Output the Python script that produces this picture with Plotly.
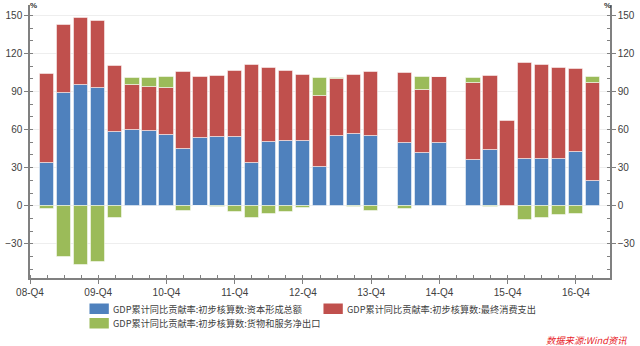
import plotly.graph_objects as go

quarters = ["09-Q1", "09-Q2", "09-Q3", "09-Q4",
            "10-Q1", "10-Q2", "10-Q3", "10-Q4",
            "11-Q1", "11-Q2", "11-Q3", "11-Q4",
            "12-Q1", "12-Q2", "12-Q3", "12-Q4",
            "13-Q1", "13-Q2", "13-Q3", "13-Q4",
            "14-Q1", "14-Q2", "14-Q3", "14-Q4",
            "15-Q1", "15-Q2", "15-Q3", "15-Q4",
            "16-Q1", "16-Q2", "16-Q3", "16-Q4",
            "17-Q1"]

capital = [33.5, 88.7, 95.3, 93.2,
           58.4, 59.5, 59.0, 55.8,
           44.5, 53.7, 54.0, 54.5,
           33.7, 50.1, 51.1, 51.1,
           30.6, 54.8, 56.6, 55.2,
           None, 49.3, 41.8, 49.3,
           None, 36.1, 43.7, None,
           36.6, 37.1, 37.1, 42.6,
           19.3]

consumption = [70.2, 53.7, 52.6, 52.4,
               52.1, 35.8, 34.7, 37.4,
               61.1, 47.7, 48.2, 52.1,
               77.4, 58.4, 55.5, 52.1,
               56.0, 45.2, 46.3, 50.6,
               None, 55.2, 49.3, 52.1,
               None, 60.5, 58.9, 66.6,
               76.1, 74.2, 71.6, 65.1,
               77.6]

net_exports = [-2.6, -40.7, -46.8, -44.4,
               -9.5, 5.7, 7.3, 8.2,
               -3.9, -0.6, -0.8, -5.2,
               -9.5, -6.8, -5.2, -1.6,
               14.4, 0.8, -1.3, -3.9,
               None, -2.8, 10.5, 0.3,
               None, 4.2, -1.3, None,
               -11.3, -10.0, -7.6, -6.5,
               4.7]

series_names = ["GDP累计同比贡献率:初步核算数:资本形成总额",
                "GDP累计同比贡献率:初步核算数:最终消费支出",
                "GDP累计同比贡献率:初步核算数:货物和服务净出口"]
series_colors = ["#4F81BD", "#C0504D", "#9BBB59"]

x_tick_labels = ["08-Q4", "09-Q4", "10-Q4", "11-Q4", "12-Q4",
                 "13-Q4", "14-Q4", "15-Q4", "16-Q4"]
y_ticks = [-30, 0, 30, 60, 90, 120, 150]
source_text = "数据来源:Wind资讯"


def q_index(label):
    yy = int(label[:2])
    qq = int(label[-1])
    return (yy - 8) * 4 + (qq - 4)


xs = [q_index(q) for q in quarters]
tick_pos = [q_index(t) for t in x_tick_labels]

W, H = 640, 346
ML, MR, MT, MB = 27, 28, 5, 68
PW = W - ML - MR
PH = H - MT - MB


def px(xp):
    return (xp - ML) / PW


def py(yp):
    return (H - MB - yp) / PH


fig = go.Figure()
for name, vals, col in zip(series_names, [capital, consumption, net_exports], series_colors):
    fig.add_trace(go.Bar(
        x=xs, y=vals, name=name, width=0.84,
        marker=dict(color=col, line=dict(color="rgba(255,255,255,0.5)", width=1)),
        showlegend=False,
    ))

tickfont = dict(family="Liberation Sans, Arial, sans-serif", size=10, color="#404040")
y_range = [-57.1, 158.4]

fig.update_layout(
    width=W, height=H,
    margin=dict(l=ML, r=MR, t=MT, b=MB, pad=0),
    paper_bgcolor="white", plot_bgcolor="white",
    barmode="relative", bargap=0,
    xaxis=dict(
        range=[0, 34], tickmode="array", tickvals=tick_pos, ticktext=x_tick_labels,
        ticks="outside", ticklen=4, tickcolor="#808080", tickfont=tickfont,
        showline=True, linecolor="#808080", linewidth=1.5,
        showgrid=False, zeroline=False,
        minor=dict(dtick=1, tick0=0, ticks="inside", ticklen=3, tickcolor="#808080", showgrid=False),
    ),
    yaxis=dict(
        range=y_range, tickmode="array", tickvals=y_ticks,
        ticks="outside", ticklen=4, tickcolor="#808080", tickfont=tickfont,
        showline=True, linecolor="#808080", linewidth=1.5,
        showgrid=True, gridcolor="#EEEEEE", gridwidth=1, zeroline=False,
        minor=dict(dtick=10, tick0=0, ticks="inside", ticklen=3, tickcolor="#808080", showgrid=False),
    ),
    yaxis2=dict(
        range=y_range, overlaying="y", side="right", tickmode="array", tickvals=y_ticks,
        ticks="outside", ticklen=4, tickcolor="#808080", tickfont=tickfont,
        showline=True, linecolor="#808080", linewidth=1.5,
        showgrid=False, zeroline=False,
        minor=dict(dtick=10, tick0=0, ticks="inside", ticklen=3, tickcolor="#808080", showgrid=False),
    ),
)

# invisible trace so the right axis is drawn
fig.add_trace(go.Scatter(x=[None], y=[None], yaxis="y2", showlegend=False, hoverinfo="skip"))

annos = []
pct_font = dict(family="Liberation Sans, Arial, sans-serif", size=8, color="#333333")
annos.append(dict(xref="paper", yref="paper", x=px(31), y=py(6), text="<b>%</b>",
                  showarrow=False, xanchor="center", yanchor="middle", font=pct_font))
annos.append(dict(xref="paper", yref="paper", x=px(609), y=py(6), text="<b>%</b>",
                  showarrow=False, xanchor="center", yanchor="middle", font=pct_font))

legend_font = dict(family="Noto Sans CJK SC, sans-serif", size=9.2, color="#404040")
legend_items = [
    (87, 303.5, 314, 109, 308.7),
    (323, 303.5, 314, 345, 308.7),
    (87, 318, 328.5, 109, 323.2),
]
shapes = []
for (sx, sy0, sy1, tx, ty), name, col in zip(legend_items, series_names, series_colors):
    shapes.append(dict(type="rect", xref="paper", yref="paper",
                       x0=px(sx), x1=px(sx + 19.5), y0=py(sy1), y1=py(sy0),
                       fillcolor=col, line=dict(width=0)))
    annos.append(dict(xref="paper", yref="paper", x=px(tx), y=py(ty), text=name,
                      showarrow=False, xanchor="left", yanchor="middle", font=legend_font))

annos.append(dict(xref="paper", yref="paper", x=px(631), y=py(339.5),
                  text="<i>" + source_text + "</i>", showarrow=False,
                  xanchor="right", yanchor="middle",
                  font=dict(family="Noto Sans CJK SC, sans-serif", size=9.3, color="#E8262B")))

fig.update_layout(annotations=annos, shapes=shapes)

fig.write_html("out.html")
